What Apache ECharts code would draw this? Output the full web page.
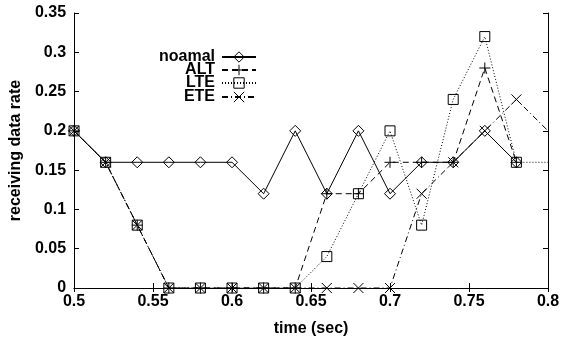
<!DOCTYPE html>
<html>
<head>
<meta charset="utf-8">
<style>
  html, body { margin: 0; padding: 0; background: #fff; }
  #chart { width: 567px; height: 342px; }
</style>
<script src="https://cdn.jsdelivr.net/npm/echarts@6/dist/echarts.min.js"></script>
</head>
<body>
<div id="chart"></div>
<script>
// Sample times (sec)
const times = [0.5, 0.52, 0.54, 0.56, 0.58, 0.6, 0.62, 0.64, 0.66, 0.68, 0.7, 0.72, 0.74, 0.76, 0.78, 0.8];

// Receiving data rate per scheme (null = no sample)
const noamal = [0.2, 0.16, 0.16, 0.16, 0.16, 0.16, 0.12, 0.2, 0.12, 0.2, 0.12, 0.16, 0.16, 0.2, 0.16, null];
const alt    = [0.2, 0.16, 0.08, 0, 0, 0, 0, 0, 0.12, 0.12, 0.16, 0.16, 0.16, 0.28, 0.16, null];
const lte    = [0.2, 0.16, 0.08, 0, 0, 0, 0, 0, 0.04, 0.12, 0.2, 0.08, 0.24, 0.32, 0.16, 0.16];
const ete    = [0.2, 0.16, 0.08, 0, 0, 0, 0, 0, 0, 0, 0, 0.12, 0.16, 0.2, 0.24, 0.2];

const xTicks = [0.5, 0.55, 0.6, 0.65, 0.7, 0.75, 0.8];
const yTicks = [0, 0.05, 0.1, 0.15, 0.2, 0.25, 0.3, 0.35];

const FONT = 'Liberation Sans, Arial, sans-serif';
const INK = '#000';
const CLEAR = 'rgba(0,0,0,0)';

// Stroke-only marker shapes
const PLUS = 'path://M5,0L5,10M0,5L10,5';
const CROSS = 'path://M0,0L10,10M10,0L0,10';

function toPoints(values) {
  const pts = [];
  values.forEach((v, i) => {
    if (v === null) return;
    const t = times[i];
    // the sample on the right frame edge is drawn without a marker
    if (t >= 0.8) pts.push({ value: [t, v], symbol: 'none' });
    else pts.push([t, v]);
  });
  return pts;
}

function lineSeries(name, values, symbol, size, type) {
  return {
    name: name,
    type: 'line',
    data: toPoints(values),
    symbol: symbol,
    symbolSize: size,
    showAllSymbol: true,
    clip: true,
    lineStyle: { color: INK, width: 1, type: type },
    itemStyle: { color: CLEAR, borderColor: INK, borderWidth: 1 },
    emphasis: { disabled: true },
    animation: false
  };
}

const series = [
  lineSeries('noamal', noamal, 'diamond', 11, 'solid'),
  lineSeries('ALT', alt, PLUS, 11, [6, 4]),
  lineSeries('LTE', lte, 'rect', 10, [1, 2]),
  lineSeries('ETE', ete, CROSS, 10, [6, 3, 1, 3])
];

// One legend per entry so texts are right-aligned and samples line up
const legendNames = ['noamal', 'ALT', 'LTE', 'ETE'];
const legendTops = [44, 57, 70, 84];
const legends = legendNames.map((n, i) => ({
  data: [n],
  right: 305,
  top: legendTops[i],
  align: 'right',
  itemWidth: 34,
  itemHeight: 13,
  selectedMode: false,
  itemStyle: { color: CLEAR, borderColor: INK, borderWidth: 1 },
  textStyle: { fontFamily: FONT, fontWeight: 'bold', fontSize: 16, color: INK, padding: [0, 2, 0, 0] }
}));

const labelStyle = { fontFamily: FONT, fontWeight: 'bold', fontSize: 16, color: INK };
const fmt = v => String(+v.toFixed(2));

const chart = echarts.init(document.getElementById('chart'), null, { renderer: 'canvas' });
chart.setOption({
  backgroundColor: '#fff',
  animation: false,
  grid: { left: 72, right: 19, top: 13, bottom: 43 },
  legend: legends,
  xAxis: [
    {
      type: 'value', min: xTicks[0], max: xTicks[xTicks.length - 1], interval: 0.05,
      name: 'time (sec)', nameLocation: 'middle', nameGap: 33,
      nameTextStyle: labelStyle,
      axisLine: { lineStyle: { color: INK, width: 1 } },
      axisTick: { inside: true, length: 5, lineStyle: { color: INK } },
      axisLabel: Object.assign({ margin: 6, formatter: fmt }, labelStyle),
      splitLine: { show: false }
    },
    {
      type: 'value', position: 'top', min: xTicks[0], max: xTicks[xTicks.length - 1], interval: 0.05,
      axisLine: { show: true, lineStyle: { color: INK, width: 1 } },
      axisTick: { inside: true, length: 4, lineStyle: { color: INK } },
      axisLabel: { show: false },
      splitLine: { show: false }
    }
  ],
  yAxis: [
    {
      type: 'value', min: yTicks[0], max: yTicks[yTicks.length - 1], interval: 0.05,
      name: 'receiving data rate', nameLocation: 'middle', nameGap: 50,
      nameTextStyle: labelStyle,
      axisLine: { show: true, lineStyle: { color: INK, width: 1 } },
      axisTick: { show: true, inside: true, length: 5, lineStyle: { color: INK } },
      axisLabel: Object.assign({ margin: 8, formatter: fmt }, labelStyle),
      splitLine: { show: false }
    },
    {
      type: 'value', position: 'right', min: yTicks[0], max: yTicks[yTicks.length - 1], interval: 0.05,
      axisLine: { show: true, lineStyle: { color: INK, width: 1 } },
      axisTick: { show: true, inside: true, length: 5, lineStyle: { color: INK } },
      axisLabel: { show: false },
      splitLine: { show: false }
    }
  ],
  series: series
});
</script>
</body>
</html>
